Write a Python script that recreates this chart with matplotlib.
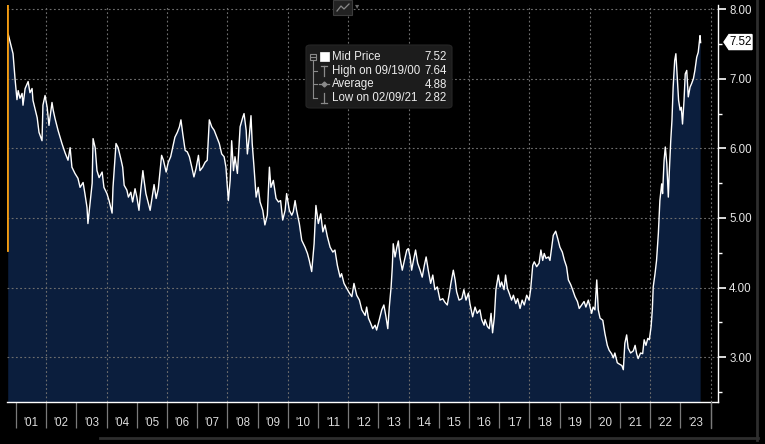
import matplotlib
matplotlib.use("Agg")
import matplotlib.pyplot as plt
from matplotlib.patches import FancyBboxPatch, Polygon, Rectangle
from matplotlib.lines import Line2D
from matplotlib.ticker import FixedLocator, NullFormatter

plt.rcParams['font.family'] = ['Liberation Sans', 'DejaVu Sans']

# ---------------- data (decimal years, mid price) ----------------
dates = [
    2000.74, 2000.87, 2000.90, 2000.97, 2001.03, 2001.07, 2001.13, 2001.20, 2001.23, 2001.30,
    2001.40, 2001.46, 2001.53, 2001.56, 2001.70, 2001.76, 2001.86, 2001.89, 2001.96, 2002.03,
    2002.09, 2002.19, 2002.23, 2002.29, 2002.39, 2002.52, 2002.62, 2002.72, 2002.79, 2002.85,
    2002.95, 2003.05, 2003.12, 2003.22, 2003.28, 2003.35, 2003.38, 2003.45, 2003.52, 2003.55,
    2003.62, 2003.68, 2003.75, 2003.85, 2003.91, 2004.01, 2004.08, 2004.18, 2004.21, 2004.31,
    2004.38, 2004.48,
    2004.53, 2004.58, 2004.67, 2004.72, 2004.80, 2004.86, 2004.94, 2005.00, 2005.07, 2005.13,
    2005.20, 2005.24, 2005.30, 2005.38, 2005.44, 2005.49, 2005.57, 2005.64, 2005.71, 2005.77,
    2005.82, 2005.88, 2005.97, 2006.04, 2006.12, 2006.19, 2006.26, 2006.34, 2006.41, 2006.46,
    2006.52, 2006.60, 2006.67, 2006.74, 2006.82, 2006.89, 2006.96, 2007.04, 2007.09, 2007.18,
    2007.26, 2007.33, 2007.40, 2007.48, 2007.56, 2007.65, 2007.73, 2007.81, 2007.89, 2007.95,
    2008.03, 2008.09, 2008.14, 2008.20, 2008.25, 2008.33,
    2008.42, 2008.51, 2008.55, 2008.62, 2008.66, 2008.72, 2008.78, 2008.82, 2008.88, 2008.95,
    2009.02, 2009.08, 2009.17, 2009.24, 2009.32, 2009.39, 2009.44, 2009.52, 2009.61, 2009.69,
    2009.76, 2009.83, 2009.91, 2009.96, 2010.05, 2010.13, 2010.18, 2010.24, 2010.29, 2010.38,
    2010.46, 2010.57, 2010.65, 2010.71, 2010.79, 2010.87, 2010.93, 2011.01, 2011.09, 2011.16,
    2011.23, 2011.31, 2011.40, 2011.49, 2011.56, 2011.64, 2011.73, 2011.78, 2011.86, 2011.95,
    2012.04, 2012.12, 2012.19, 2012.28, 2012.37, 2012.45, 2012.52,
    2012.56, 2012.61, 2012.67, 2012.74, 2012.81, 2012.89, 2012.94, 2013.03, 2013.11, 2013.18,
    2013.25, 2013.31, 2013.36, 2013.42, 2013.46, 2013.49, 2013.55, 2013.61, 2013.66, 2013.71,
    2013.79, 2013.86, 2013.94, 2013.99, 2014.05, 2014.10, 2014.16, 2014.23, 2014.30, 2014.38,
    2014.45, 2014.52, 2014.58, 2014.65, 2014.73, 2014.80, 2014.87, 2014.95, 2015.04, 2015.13,
    2015.20, 2015.28, 2015.35, 2015.40, 2015.48, 2015.54, 2015.59, 2015.67, 2015.76, 2015.83,
    2015.90, 2015.98, 2016.03, 2016.12, 2016.20, 2016.27, 2016.36, 2016.42, 2016.50,
    2016.53, 2016.61, 2016.67, 2016.73, 2016.78, 2016.84, 2016.89, 2016.97, 2017.03, 2017.08,
    2017.16, 2017.21, 2017.27, 2017.33, 2017.41, 2017.47, 2017.55, 2017.61, 2017.69, 2017.76,
    2017.83, 2017.91, 2017.99, 2018.04, 2018.11, 2018.16, 2018.24, 2018.32, 2018.38, 2018.44,
    2018.49, 2018.55, 2018.63, 2018.68, 2018.74, 2018.79, 2018.87, 2018.94, 2019.01, 2019.09,
    2019.16, 2019.23, 2019.29, 2019.37, 2019.43, 2019.51, 2019.59, 2019.65, 2019.73, 2019.81,
    2019.87, 2019.95, 2020.01, 2020.06, 2020.11, 2020.17, 2020.23, 2020.28,
    2020.34, 2020.43, 2020.50, 2020.58, 2020.64, 2020.72, 2020.78, 2020.83, 2020.91, 2020.98,
    2021.06, 2021.11, 2021.16, 2021.22, 2021.27, 2021.35, 2021.44, 2021.50, 2021.55, 2021.60,
    2021.68, 2021.75, 2021.80, 2021.86, 2021.92, 2021.97, 2022.03, 2022.07, 2022.10, 2022.16,
    2022.21, 2022.27, 2022.32, 2022.38, 2022.41, 2022.46, 2022.50, 2022.55, 2022.60, 2022.63,
    2022.68, 2022.72, 2022.76, 2022.81, 2022.85, 2022.90, 2022.94, 2022.99, 2023.03, 2023.07,
    2023.12, 2023.16, 2023.21, 2023.26, 2023.32, 2023.37, 2023.43, 2023.48, 2023.54, 2023.59,
    2023.65, 2023.67,
]
mid_price = [
    7.64, 7.41, 7.36, 6.98, 6.70, 6.83, 6.72, 6.79, 6.62, 6.86,
    6.96, 6.80, 6.86, 6.69, 6.44, 6.23, 6.11, 6.62, 6.76, 6.59,
    6.33, 6.66, 6.55, 6.43, 6.26, 6.07, 5.94, 5.83, 6.01, 5.73,
    5.64, 5.57, 5.44, 5.51, 5.35, 5.15, 4.92, 5.21, 5.50, 6.14,
    6.01, 5.68, 5.58, 5.66, 5.44, 5.35, 5.25, 5.07, 5.44, 6.07,
    6.01, 5.83,
    5.73, 5.47, 5.40, 5.30, 5.37, 5.23, 5.42, 5.30, 5.11, 5.40,
    5.68, 5.54, 5.35, 5.21, 5.11, 5.25, 5.48, 5.28, 5.42, 5.68,
    5.90, 5.83, 5.66, 5.80, 5.88, 6.02, 6.16, 6.23, 6.31, 6.41,
    6.21, 5.97, 5.95, 5.88, 5.73, 5.59, 5.71, 5.90, 5.68, 5.73,
    5.80, 5.83, 6.41, 6.31, 6.26, 6.16, 6.07, 5.92, 5.88, 5.73,
    5.25, 5.54, 6.11, 5.68, 5.88, 5.64,
    6.31, 6.45, 6.50, 6.26, 5.92, 6.16, 6.47, 6.07, 5.73, 5.30,
    5.44, 5.23, 5.11, 4.90, 5.04, 5.73, 5.44, 5.54, 5.28, 5.23,
    5.25, 4.97, 5.11, 5.35, 5.11, 5.04, 5.09, 5.25, 5.11, 4.92,
    4.68, 4.58, 4.49, 4.39, 4.23, 4.63, 5.18, 4.92, 5.06, 4.80,
    4.90, 4.73, 4.58, 4.51, 4.54, 4.32, 4.15, 4.20, 4.06, 3.99,
    3.92, 3.87, 4.06, 3.89, 3.82, 3.68, 3.63,
    3.60, 3.72, 3.56, 3.49, 3.41, 3.46, 3.39, 3.54, 3.68, 3.75,
    3.58, 3.41, 3.72, 4.01, 4.30, 4.63, 4.44, 4.58, 4.67, 4.44,
    4.25, 4.39, 4.54, 4.56, 4.44, 4.25, 4.39, 4.54, 4.35, 4.25,
    4.15, 4.32, 4.44, 4.25, 4.06, 4.18, 3.97, 4.01, 3.82, 3.84,
    3.79, 3.75, 3.92, 4.06, 4.25, 4.11, 3.94, 3.82, 3.84, 3.97,
    3.82, 3.92, 3.77, 3.58, 3.72, 3.63, 3.68, 3.54, 3.46,
    3.54, 3.44, 3.41, 3.63, 3.35, 3.58, 3.97, 4.18, 4.01, 4.08,
    3.97, 4.18, 3.99, 3.92, 3.82, 3.89, 3.77, 3.84, 3.70, 3.82,
    3.75, 3.89, 3.82, 3.97, 4.32, 4.37, 4.30, 4.35, 4.54, 4.39,
    4.49, 4.42, 4.44, 4.39, 4.58, 4.75, 4.81, 4.70, 4.58, 4.51,
    4.39, 4.30, 4.11, 4.04, 3.97, 3.87, 3.80, 3.70, 3.75, 3.80,
    3.72, 3.82, 3.72, 3.63, 3.72, 3.68, 4.11, 3.68,
    3.56, 3.53, 3.34, 3.17, 3.10, 3.05, 2.99, 3.06, 2.92, 2.90,
    2.88, 2.82, 3.20, 3.32, 3.13, 3.06, 3.09, 3.17, 3.05, 2.98,
    3.06, 3.05, 3.25, 3.17, 3.27, 3.25, 3.44, 3.68, 4.01, 4.20,
    4.39, 4.78, 5.25, 5.49, 5.35, 5.83, 6.02, 5.78, 5.30, 5.64,
    6.11, 6.40, 6.88, 7.26, 7.36, 6.98, 6.69, 6.55, 6.59, 6.35,
    6.69, 7.07, 7.12, 6.74, 6.88, 6.93, 7.00, 7.12, 7.31, 7.38,
    7.62, 7.52,
]

year_ticks = list(range(2001, 2025))
year_labels = ["'%02d" % (y % 100) for y in range(2001, 2024)]
y_major = [3, 4, 5, 6, 7, 8]
y_minor = [2.5, 3.5, 4.5, 5.5, 6.5, 7.5]

legend_names = ["Mid Price", "High on 09/19/00", "Average", "Low on 02/09/21"]
legend_values = ["7.52", "7.64", "4.88", "2.82"]
last_price_label = "7.52"
last_price = 7.52

# ---------------- figure ----------------
W, H = 765, 444
fig = plt.figure(figsize=(W / 100, H / 100), dpi=100, facecolor='black')


def fx(x):
    return x / W


def fy(y):
    return 1 - y / H


ax = fig.add_axes([fx(7), 42 / H, 711 / W, 397 / H])
ax.set_facecolor('black')
ax.set_xlim(2000.70, 2024.245)
ax.set_ylim(2.356, 8.06)

navy = '#0b1e3d'
ax.fill_between(dates, mid_price, 0, color=navy, lw=0, zorder=1)

grid_c = '#6e6e6e'
for yv in y_major:
    ax.axhline(yv, color=grid_c, lw=0.8, ls=(0, (1.6, 2.2)), zorder=1.5)
for xv in range(2002, 2025, 2):
    ax.axvline(xv, color=grid_c, lw=0.8, ls=(0, (1.6, 2.2)), zorder=1.5)

ax.plot(dates, mid_price, color='white', lw=1.0, zorder=3)

# orange marker bar on the left edge
ax.axvline(2000.715, ymin=0.383, ymax=1.0, color='#f39c12', lw=2.0, zorder=4)

# spines
for s in ['left', 'top']:
    ax.spines[s].set_visible(False)
ax.spines['right'].set_color('white')
ax.spines['bottom'].set_color('white')
ax.spines['right'].set_linewidth(1.0)
ax.spines['bottom'].set_linewidth(1.0)

# y axis on right
ax.yaxis.tick_right()
ax.yaxis.set_major_locator(FixedLocator(y_major))
ax.yaxis.set_minor_locator(FixedLocator(y_minor))
ax.set_yticklabels(["%.2f" % v for v in y_major])
ax.tick_params(axis='y', which='major', colors='white', length=6, width=1.2, pad=2,
               labelsize=8.3, labelcolor='#e6e6e6')
ax.tick_params(axis='y', which='minor', colors='white', length=3, width=1)

# x axis: separators at year starts, labels mid-year
ax.xaxis.set_major_locator(FixedLocator(year_ticks))
ax.xaxis.set_major_formatter(NullFormatter())
ax.xaxis.set_minor_locator(FixedLocator([y + 0.5 for y in range(2001, 2024)]))
ax.set_xticklabels(year_labels, minor=True)
ax.tick_params(axis='x', which='major', colors='#7a7a7a', length=19, width=0.9)
ax.tick_params(axis='x', which='minor', length=0, pad=10.5, labelsize=8.3, labelcolor='#dcdcdc')

# ---------------- legend box ----------------
box = FancyBboxPatch((fx(306), fy(108)), fx(452) - fx(306), fy(45) - fy(108),
                     boxstyle="round,pad=0,rounding_size=0.006",
                     transform=fig.transFigure, facecolor='#1c1c1c', edgecolor='#262626',
                     lw=0.8, zorder=10)
fig.patches.append(box)

row_y = [57, 71, 84.5, 98]
tree_c = '#8a8a8a'
# tree trunk
fig.lines.append(Line2D([fx(313), fx(313)], [fy(60), fy(98)], transform=fig.transFigure,
                        color=tree_c, lw=0.8, zorder=11))
for ry in row_y[1:]:
    fig.lines.append(Line2D([fx(313), fx(317)], [fy(ry), fy(ry)], transform=fig.transFigure,
                            color=tree_c, lw=0.8, zorder=11))
# minus box icon
fig.patches.append(Rectangle((fx(310), fy(60)), fx(6), fy(0) - fy(6), transform=fig.transFigure,
                             facecolor='none', edgecolor=tree_c, lw=0.8, zorder=11))
fig.lines.append(Line2D([fx(311), fx(315)], [fy(57), fy(57)], transform=fig.transFigure,
                        color=tree_c, lw=0.8, zorder=11))
# white square for mid price
fig.patches.append(Rectangle((fx(320), fy(61.5)), fx(9), fy(0) - fy(9), transform=fig.transFigure,
                             facecolor='white', edgecolor='white', lw=0.5, zorder=11))
# high icon (T)
fig.lines.append(Line2D([fx(321), fx(327)], [fy(66), fy(66)], transform=fig.transFigure,
                        color=tree_c, lw=0.9, zorder=11))
fig.lines.append(Line2D([fx(324), fx(324)], [fy(66), fy(76)], transform=fig.transFigure,
                        color=tree_c, lw=0.9, zorder=11))
# average icon (line with small diamond)
fig.lines.append(Line2D([fx(319), fx(329)], [fy(84.5), fy(84.5)], transform=fig.transFigure,
                        color=tree_c, lw=0.9, zorder=11))
fig.lines.append(Line2D([fx(324)], [fy(84.5)], transform=fig.transFigure,
                        color=tree_c, marker='D', markersize=2.5, lw=0, zorder=11))
# low icon (inverted T)
fig.lines.append(Line2D([fx(321), fx(327)], [fy(103), fy(103)], transform=fig.transFigure,
                        color=tree_c, lw=0.9, zorder=11))
fig.lines.append(Line2D([fx(324), fx(324)], [fy(93), fy(103)], transform=fig.transFigure,
                        color=tree_c, lw=0.9, zorder=11))

for ry, name, val in zip(row_y, legend_names, legend_values):
    fig.text(fx(332), fy(ry), name, color='#ececec', fontsize=8.3, va='center', ha='left',
             zorder=12)
    fig.text(fx(447), fy(ry), val, color='#ececec', fontsize=8.3, va='center', ha='right',
             zorder=12)

# ---------------- last price tag ----------------
tag_y = 78.3 - (last_price - 7.0) * 69.7
tag = Polygon([(fx(724), fy(tag_y)), (fx(729), fy(tag_y - 7.5)), (fx(752), fy(tag_y - 7.5)),
               (fx(752), fy(tag_y + 7.5)), (fx(729), fy(tag_y + 7.5))],
              closed=True, transform=fig.transFigure, facecolor='white', edgecolor='white',
              zorder=12)
fig.patches.append(tag)
fig.text(fx(740.5), fy(tag_y), last_price_label, color='black', fontsize=8.3,
         ha='center', va='center', zorder=13)

# ---------------- small toolbar icon at top ----------------
fig.patches.append(Rectangle((fx(333), fy(15)), fx(19), fy(0) - fy(15), transform=fig.transFigure,
                             facecolor='#222222', edgecolor='#3c3c3c', lw=0.8, zorder=12))
fig.lines.append(Line2D([fx(337), fx(341), fx(344), fx(349)], [fy(11), fy(6), fy(9), fy(4)],
                        transform=fig.transFigure, color='#8a8a8a', lw=0.9, zorder=13))
fig.text(fx(357), fy(6), "\u25be", color='#6a6a6a', fontsize=6, ha='center', va='center',
         family='DejaVu Sans', zorder=13)

# ---------------- panel borders ----------------
fig.lines.append(Line2D([fx(100), fx(758)], [fy(438), fy(438)], transform=fig.transFigure,
                        color='#2e2e2e', lw=2.0, zorder=5))
fig.lines.append(Line2D([fx(757), fx(757)], [fy(0), fy(440)], transform=fig.transFigure,
                        color='#2e2e2e', lw=2.0, zorder=5))
fig.lines.append(Line2D([fx(711), fx(711)], [fy(402), fy(428)], transform=fig.transFigure,
                        color='#7a7a7a', lw=0.9, zorder=5))

fig.savefig('out.png', dpi=100, facecolor='black')
